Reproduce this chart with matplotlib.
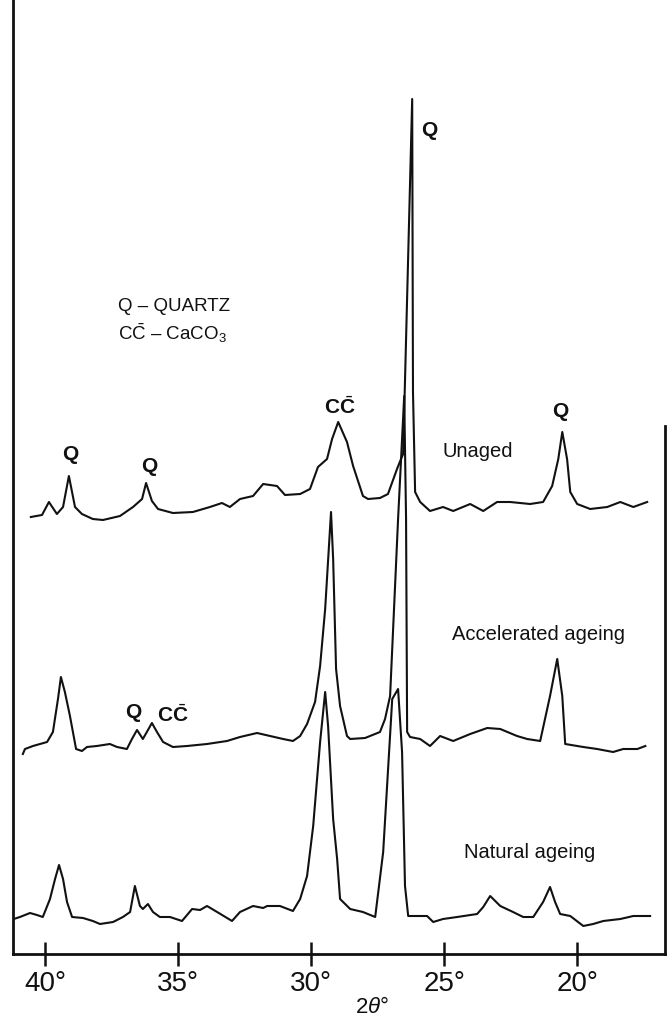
import matplotlib
matplotlib.use("Agg")
import matplotlib.pyplot as plt

plt.rcParams['font.family'] = ['Liberation Sans', 'DejaVu Sans']
plt.rcParams['mathtext.fontset'] = 'custom'
plt.rcParams['mathtext.rm'] = 'Liberation Sans'
plt.rcParams['mathtext.it'] = 'Liberation Sans:italic'

# ---- data (2theta in degrees, relative intensity) ----
unaged_2theta = [40.53, 40.11, 39.85, 39.55, 39.32, 39.10, 38.87, 38.61, 38.20, 37.82,
                 37.18, 36.69, 36.35, 36.20, 35.98, 35.75, 35.19, 34.44, 33.80, 33.35,
                 33.05, 32.67, 32.18, 31.80, 31.28, 30.98, 30.41, 30.04, 29.74, 29.40,
                 29.21, 28.98, 28.65, 28.42, 28.05, 27.86, 27.41, 27.11, 26.77, 26.65,
                 26.54, 26.20, 26.17, 26.09, 25.90, 25.53, 25.04, 24.66, 24.02, 23.53,
                 23.01, 22.52, 21.77, 21.28, 20.94, 20.71, 20.56, 20.38, 20.26, 20.00,
                 19.51, 18.87, 18.38, 17.89, 17.37]
unaged_int = [2, 4, 17, 5, 12, 43, 12, 5, 0, -1,
              3, 12, 20, 36, 18, 10, 6, 7, 12, 16,
              12, 20, 23, 35, 33, 24, 25, 30, 52, 60,
              80, 97, 77, 53, 23, 20, 21, 25, 50, 58,
              65, 420, 127, 27, 17, 8, 12, 8, 15, 8,
              17, 17, 15, 17, 33, 60, 87, 60, 27, 15,
              10, 12, 17, 12, 17]

accel_2theta = [40.83, 40.75, 40.45, 39.92, 39.70, 39.51, 39.40, 39.25, 39.06, 38.83,
                38.61, 38.42, 38.05, 37.56, 37.29, 36.92, 36.73, 36.54, 36.32, 35.98,
                35.79, 35.56, 35.19, 34.66, 33.91, 33.16, 32.67, 32.03, 31.54, 31.05,
                30.68, 30.41, 30.15, 29.85, 29.66, 29.47, 29.25, 29.17, 29.06, 28.91,
                28.65, 28.53, 27.97, 27.41, 27.22, 27.03, 26.73, 26.50, 26.43, 26.39,
                26.28, 25.90, 25.53, 25.15, 24.66, 24.02, 23.38, 22.89, 22.26, 21.88,
                21.39, 21.02, 20.75, 20.56, 20.45, 19.77, 19.25, 18.65, 18.27, 17.74,
                17.44]
accel_int = [5, 10, 13, 17, 27, 60, 82, 67, 43, 10,
             8, 12, 13, 15, 12, 10, 20, 29, 20, 36,
             27, 17, 12, 13, 15, 18, 22, 26, 23, 20,
             18, 23, 35, 57, 93, 150, 247, 200, 90, 53,
             23, 20, 21, 27, 40, 63, 240, 363, 240, 27,
             22, 20, 13, 23, 18, 25, 31, 30, 23, 20,
             18, 63, 100, 63, 15, 12, 10, 7, 10, 10,
             13]

natural_2theta = [41.17, 40.94, 40.56, 40.30, 40.08, 39.81, 39.62, 39.47, 39.32, 39.17,
                  38.98, 38.57, 38.20, 37.93, 37.44, 37.07, 36.80, 36.62, 36.43, 36.32,
                  36.13, 35.94, 35.68, 35.30, 34.85, 34.47, 34.17, 33.91, 33.53, 32.97,
                  32.67, 32.18, 31.80, 31.65, 31.17, 30.68, 30.41, 30.15, 29.92, 29.66,
                  29.47, 29.36, 29.17, 29.02, 28.91, 28.53, 28.05, 27.59, 27.29, 26.95,
                  26.73, 26.58, 26.47, 26.35, 25.64, 25.41, 25.04, 24.51, 23.76, 23.53,
                  23.27, 22.89, 22.41, 22.03, 21.65, 21.28, 21.02, 20.83, 20.64, 20.26,
                  19.77, 19.40, 19.02, 18.38, 17.89, 17.26]
natural_int = [10, 12, 16, 14, 12, 30, 50, 64, 50, 27,
               12, 11, 8, 5, 7, 12, 17, 43, 23, 20,
               25, 17, 12, 12, 8, 20, 19, 23, 17, 8,
               17, 23, 21, 23, 23, 18, 30, 53, 103, 187,
               237, 203, 110, 70, 30, 20, 17, 12, 77, 230,
               240, 177, 43, 13, 13, 7, 10, 12, 15, 22,
               33, 23, 17, 12, 12, 27, 42, 27, 15, 13,
               3, 5, 8, 10, 13, 13]

series_names = ["Unaged", "Accelerated ageing", "Natural ageing"]
series_offsets = [435, 195, 25]

tick_values = [40, 35, 30, 25, 20]
tick_labels = ["40°", "35°", "30°", "25°", "20°"]

# ---- figure ----
W, H = 669, 1020
fig = plt.figure(figsize=(W / 100, H / 100), dpi=100)
ax = fig.add_axes([13 / W, (H - 955) / H, (665 - 13) / W, 955 / H])
ax.set_xlim(41.2, 16.7)
ax.set_ylim(0, 955)

ink = "#111111"
lw = 1.5
ax.plot(unaged_2theta, [v + series_offsets[0] for v in unaged_int], color=ink, lw=lw)
ax.plot(accel_2theta, [v + series_offsets[1] for v in accel_int], color=ink, lw=lw)
ax.plot(natural_2theta, [v + series_offsets[2] for v in natural_int], color=ink, lw=lw)

# frame
for s in ["top"]:
    ax.spines[s].set_visible(False)
for s in ["left", "bottom", "right"]:
    ax.spines[s].set_linewidth(2.0)
    ax.spines[s].set_color(ink)
ax.spines["right"].set_bounds(0, 528)

ax.set_yticks([])
ax.set_xticks(tick_values)
ax.set_xticklabels(tick_labels)
ax.tick_params(axis="x", direction="inout", length=17, width=1.8, color=ink,
               labelsize=20, pad=3, labelcolor=ink)

# annotations
pk = dict(ha="center", va="center", fontsize=15, fontweight="bold", color=ink)
ax.text(25.56, 824, "Q", **pk)
ax.text(28.91, 548, r"C$\bar{\mathregular{C}}$", **pk)
ax.text(20.64, 543, "Q", **pk)
ax.text(39.06, 500, "Q", **pk)
ax.text(36.09, 488, "Q", **pk)
ax.text(36.69, 242, "Q", **pk)
ax.text(35.19, 240, r"C$\bar{\mathregular{C}}$", **pk)

lab = dict(ha="center", va="center", fontsize=14.5, color=ink)
ax.text(23.72, 503, series_names[0], **lab)
ax.text(21.47, 320, series_names[1], **lab)
ax.text(21.80, 102, series_names[2], **lab)

leg = dict(ha="left", va="center", fontsize=13.5, color=ink)
ax.text(37.26, 648, "Q – QUARTZ", **leg)
ax.text(37.26, 622, r"C$\bar{\mathregular{C}}$ – CaCO$_{\mathregular{3}}$", **leg)

fig.text(372 / W, 1 - 1008 / H, r"2$\mathit{\theta}$°", ha="center", va="center",
         fontsize=16, color=ink)

fig.savefig("out.png", dpi=100, facecolor="white")
